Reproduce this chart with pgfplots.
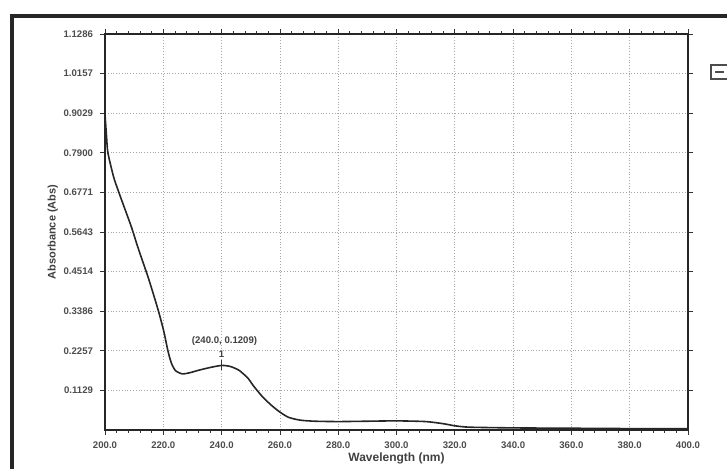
\documentclass[border=0pt]{standalone}
\usepackage{pgfplots}
\pgfplotsset{compat=1.18}
\usepackage{fontspec}
\setmainfont{Liberation Sans}
\begin{document}
\begin{tikzpicture}
\path[use as bounding box] (0,0) rectangle (363.5pt,234.5pt);
% outer frame of the screenshot
\draw[line width=1.6pt, black!85] (6pt,0) -- (6pt,226.5pt) -- (363.5pt,226.5pt);
\draw[line width=1pt, black!70] (355.5pt,195pt) rectangle (365pt,202pt);
\draw[line width=0.6pt, black!70] (357.5pt,198.5pt) -- (362pt,198.5pt);
\begin{axis}[
  scale only axis,
  width=291.5pt, height=198pt,
  at={(52.5pt,19.5pt)}, anchor=south west,
  xmin=200, xmax=400, ymin=0, ymax=1.1286,
  xtick={200,220,...,400},
  minor x tick num=4,
  ytick={0.1129,0.2257,0.3386,0.4514,0.5643,0.6771,0.7900,0.9029,1.0157,1.1286},
  yticklabels={0.1129,0.2257,0.3386,0.4514,0.5643,0.6771,0.7900,0.9029,1.0157,1.1286},
  minor y tick num=4,
  tick align=outside,
  major tick length=2.5pt, minor tick length=1.5pt,
  tick style={black!80, line width=0.4pt},
  grid=major,
  major grid style={densely dotted, black!35, line width=0.4pt},
  axis line style={black!85, line width=1pt},
  /pgf/number format/assume math mode=true,
  xticklabel style={/pgf/number format/.cd, fixed, fixed zerofill, precision=1},
  ticklabel style={font=\fontsize{4.8}{5}\selectfont\bfseries, text=black!70},
  xlabel={Wavelength (nm)},
  ylabel={Absorbance (Abs)},
  xlabel style={font=\fontsize{6}{7}\selectfont\bfseries, text=black!75, yshift=5pt},
  ylabel style={font=\fontsize{5.5}{6}\selectfont\bfseries, text=black!75, yshift=-4pt},
  clip=false,
]
\addplot[black!85, line width=0.8pt, smooth, tension=0.4] coordinates {
(200,0.90) (200.5,0.84) (201,0.79) (203,0.72) (205.5,0.66) (209,0.58) (211.3,0.52)
(215,0.43) (218.3,0.34) (220.2,0.28) (221.6,0.225) (222.8,0.19) (224.2,0.169)
(226.5,0.160) (229,0.163) (232,0.170) (236,0.178) (240,0.184) (243,0.181) (246,0.170)
(249,0.148) (251,0.125) (254,0.095) (257,0.071) (260,0.051) (263,0.036) (267,0.028)
(272,0.025) (280,0.024) (290,0.025) (300,0.026) (310,0.024) (316,0.018) (320,0.012)
(325,0.008) (340,0.006) (360,0.005) (380,0.004) (400,0.004)
};
\addplot[only marks, mark=|, mark size=2.5pt, black!80] coordinates {(240,0.184)};
\node[font=\fontsize{4.8}{5}\selectfont\bfseries, text=black!75, inner sep=0pt] at (axis cs:240,0.215) {1};
\node[font=\fontsize{4.8}{5}\selectfont\bfseries, text=black!75, inner sep=0pt] at (axis cs:241,0.255) {(240.0, 0.1209)};
\end{axis}
\end{tikzpicture}
\end{document}
